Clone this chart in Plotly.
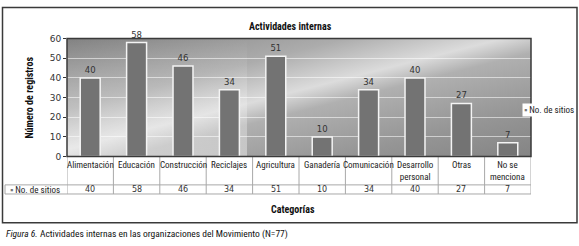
import base64
import plotly.graph_objects as go

categories = ["Alimentación", "Educación", "Construcción", "Reciclajes", "Agricultura",
              "Ganadería", "Comunicación", "Desarrollo<br>personal", "Otras", "No se<br>menciona"]
values = [40, 58, 46, 34, 51, 10, 34, 40, 27, 7]
series_name = "No. de sitios"
y_ticks = [0, 10, 20, 30, 40, 50, 60]

W, H = 579, 246
def px(x): return x / W
def py(y): return 1 - y / H

COND = "Liberation Sans Narrow, Arial Narrow, Roboto Condensed, Liberation Sans, sans-serif"
WIDE = "DejaVu Sans, Verdana, sans-serif"

L, R, T, B = 67, 531, 35, 158

svg = """<svg xmlns='http://www.w3.org/2000/svg' width='464' height='123' viewBox='0 0 464 123' preserveAspectRatio='none'>
<defs><linearGradient id='g' x1='0' y1='0' x2='1' y2='1'>
<stop offset='0' stop-color='#828282'/>
<stop offset='0.30' stop-color='#acacac'/>
<stop offset='0.47' stop-color='#dcdcdc'/>
<stop offset='0.56' stop-color='#b0b0b0'/>
<stop offset='0.80' stop-color='#959595'/>
<stop offset='1' stop-color='#848484'/>
</linearGradient>
<linearGradient id='h' x1='0' y1='0' x2='0' y2='1'>
<stop offset='0' stop-color='#ffffff' stop-opacity='0'/>
<stop offset='1' stop-color='#ffffff' stop-opacity='0.4'/>
</linearGradient></defs>
<rect width='464' height='123' fill='url(#g)'/>
<rect width='180' height='123' fill='url(#h)'/>
</svg>"""
src = "data:image/svg+xml;base64," + base64.b64encode(svg.encode()).decode()

fig = go.Figure()
fig.add_trace(go.Bar(
    x=list(range(len(categories))), y=values, name=series_name,
    width=0.43, marker=dict(color="#737373", line=dict(color="#f4f4f4", width=1.5)),
    text=[str(v) for v in values], textposition="outside",
    textfont=dict(family=WIDE, size=8.5, color="#333333"),
    cliponaxis=False, showlegend=False,
))

shapes = []
line_c = "#a8a8a8"
for i in range(len(categories) + 1):
    shapes.append(dict(type="line", xref="x", yref="paper", x0=i - 0.5, x1=i - 0.5,
                       y0=py(197), y1=py(B), line=dict(color=line_c, width=1)))
shapes.append(dict(type="line", xref="paper", yref="paper", x0=px(5), x1=px(R),
                   y0=py(187.5), y1=py(187.5), line=dict(color=line_c, width=1)))
shapes.append(dict(type="line", xref="paper", yref="paper", x0=px(5), x1=px(R),
                   y0=py(197), y1=py(197), line=dict(color=line_c, width=1)))
shapes.append(dict(type="line", xref="paper", yref="paper", x0=px(5), x1=px(5),
                   y0=py(197), y1=py(187.5), line=dict(color=line_c, width=1)))
shapes.append(dict(type="rect", xref="paper", yref="paper", x0=px(L), x1=px(R),
                   y0=py(B), y1=py(T), line=dict(color="#3a3a3a", width=1.5)))
shapes.append(dict(type="rect", xref="paper", yref="paper", x0=px(2.5), x1=px(577),
                   y0=py(227), y1=py(2.5), line=dict(color="#3a3a3a", width=1.5)))

ann = []
for i, c in enumerate(categories):
    ann.append(dict(x=i, xref="x", y=py(160), yref="paper", yanchor="top",
                    text=c, showarrow=False,
                    font=dict(family=COND, size=9, color="#222")))
    ann.append(dict(x=i, xref="x", y=py(192.5), yref="paper", yanchor="middle",
                    text=str(values[i]), showarrow=False,
                    font=dict(family=WIDE, size=8, color="#333")))
ann.append(dict(x=px(8), xref="paper", y=py(192.5), yref="paper", xanchor="left", yanchor="middle",
                text="<span style='color:#777'>▪</span> " + series_name, showarrow=False,
                font=dict(family=COND, size=9, color="#222")))
ann.append(dict(x=px(522), xref="paper", y=py(109), yref="paper", xanchor="left", yanchor="middle",
                text="<span style='color:#777'>▪</span> " + series_name, showarrow=False,
                bgcolor="white", borderpad=1,
                font=dict(family=COND, size=9, color="#222")))
ann.append(dict(x=px(290), xref="paper", y=py(22), yref="paper", yanchor="middle",
                text="<b>Actividades internas</b>", showarrow=False,
                font=dict(family=COND, size=10, color="#111")))
ann.append(dict(x=px(293), xref="paper", y=py(213), yref="paper", yanchor="middle",
                text="<b>Categorías</b>", showarrow=False,
                font=dict(family=COND, size=10, color="#111")))
ann.append(dict(x=px(22), xref="paper", y=py(97), yref="paper", textangle=-90,
                text="<b>Número de registros</b>", showarrow=False,
                font=dict(family=COND, size=10, color="#111")))
ann.append(dict(x=px(4), xref="paper", y=py(239), yref="paper", xanchor="left", yanchor="middle",
                text="<i>Figura 6.</i> Actividades internas en las organizaciones del Movimiento (N=77)",
                showarrow=False, font=dict(family=COND, size=9.5, color="#111")))

fig.update_layout(
    width=W, height=H, autosize=False,
    margin=dict(l=0, r=0, t=0, b=0),
    paper_bgcolor="white", plot_bgcolor="rgba(0,0,0,0)",
    shapes=shapes, annotations=ann,
    images=[dict(source=src, xref="paper", yref="paper", x=px(L), y=py(T),
                 sizex=px(R) - px(L), sizey=py(T) - py(B), sizing="stretch",
                 layer="below", xanchor="left", yanchor="top")],
    xaxis=dict(domain=[px(L), px(R)], range=[-0.5, len(categories) - 0.5],
               showticklabels=False, showgrid=False, zeroline=False, ticks=""),
    yaxis=dict(domain=[py(B), py(T)], range=[0, 60], tickvals=y_ticks,
               ticks="outside", ticklen=3, tickcolor="#333", tickwidth=1,
               tickfont=dict(family=WIDE, size=9, color="#333"),
               showgrid=True, gridcolor="rgba(255,255,255,0.55)", gridwidth=1,
               zeroline=False, showline=False),
    bargap=0.57,
)
fig.write_html("out.html", config={"displayModeBar": False},
               post_script="document.body.style.margin='0';document.body.style.overflow='hidden';")
